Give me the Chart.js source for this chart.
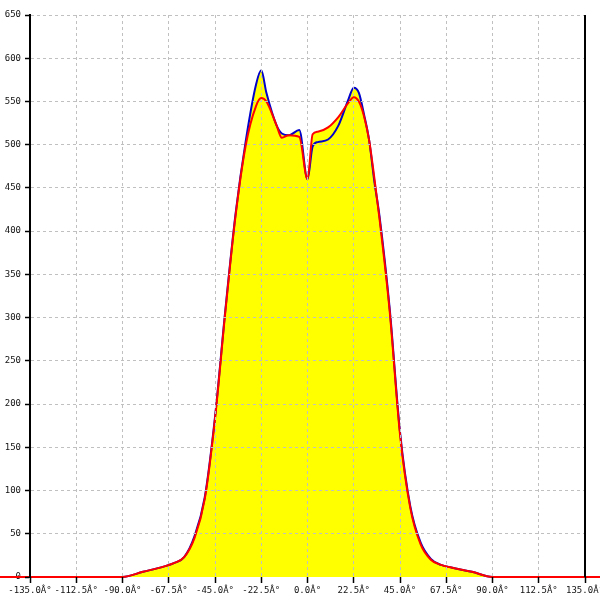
<!DOCTYPE html>
<html>
<head>
<meta charset="utf-8">
<script src="https://cdn.jsdelivr.net/npm/chart.js@4"></script>
<style>
  html, body { margin: 0; padding: 0; background: #fff; }
</style>
</head>
<body>
<canvas id="chart" width="600" height="600"></canvas>
<script>
// angles in degrees
const angles = [-180, -90, -80, -70, -65, -60, -55, -50, -45, -40, -35, -30, -25, -22.5, -20, -15, -12.5, -9, -4, 0,
  2.5, 5, 10, 15, 20, 22.5, 25, 27.5, 30, 32.5, 35, 40, 45, 50, 55, 60, 65, 70, 80, 90, 180];
const blueValues = [0, 0, 6, 12, 16, 23, 47, 92, 185, 308, 420, 505, 570, 586, 560, 522, 513, 511, 517, 460,
  498, 503, 506, 522, 553, 566, 560, 535, 505, 458, 418, 310, 168, 82, 40, 21, 14, 11, 6, 0, 0];
const redValues = [0, 0, 6, 12, 16, 23, 45, 90, 183, 306, 418, 500, 545, 554, 550, 522, 508, 511, 509, 460,
  512, 515, 520, 532, 549, 555, 550, 533, 505, 462, 415, 307, 165, 80, 38, 20, 14, 11, 6, 0, 0];

const xMin = -135, xMax = 135, xStep = 22.5;
const yMin = 0, yMax = 650, yStep = 50;
const degSuffix = "Â°";

const toPoints = vals => angles.map((a, i) => ({ x: a, y: vals[i] }));

const font = { family: "'DejaVu Sans Mono', monospace", size: 9 };
const gridColor = "#c0c0c0";

// right-hand frame line of the plot area
const rightFrame = {
  id: "rightFrame",
  afterDraw(c) {
    const { ctx, chartArea: a } = c;
    ctx.save();
    ctx.strokeStyle = "#000";
    ctx.lineWidth = 2;
    ctx.beginPath();
    ctx.moveTo(a.right, a.top);
    ctx.lineTo(a.right, a.bottom);
    ctx.stroke();
    ctx.restore();
  }
};

new Chart(document.getElementById("chart"), {
  type: "line",
  data: {
    datasets: [
      {
        data: toPoints(redValues),
        borderColor: "#ff0000",
        backgroundColor: "#ffff00",
        borderWidth: 2,
        fill: "origin",
        pointRadius: 0,
        cubicInterpolationMode: "monotone",
        clip: false
      },
      {
        data: toPoints(blueValues),
        borderColor: "#0000cc",
        backgroundColor: "#ffff00",
        borderWidth: 2,
        fill: "origin",
        pointRadius: 0,
        cubicInterpolationMode: "monotone",
        clip: false
      }
    ]
  },
  options: {
    responsive: false,
    animation: false,
    layout: { padding: { top: 15, right: 15, left: 0, bottom: 0 } },
    plugins: {
      legend: { display: false },
      tooltip: { enabled: false },
      filler: { drawTime: "beforeDatasetsDraw" }
    },
    scales: {
      x: {
        type: "linear",
        min: xMin,
        max: xMax,
        afterFit: s => { s.height = 23; s.paddingLeft = 0; s.paddingRight = 0; },
        // the red zero line covers the bottom axis line in the reference
        border: { display: false, dash: [3, 3] },
        grid: {
          z: 1,
          color: c => (c.tick && Math.abs(c.tick.value) === 135) ? "rgba(0,0,0,0)" : gridColor,
          lineWidth: 1,
          tickLength: 6,
          tickColor: "#000",
          tickWidth: 1.5
        },
        ticks: {
          stepSize: xStep,
          autoSkip: false,
          maxRotation: 0,
          padding: 2,
          color: "#111",
          font,
          callback: v => Number(v).toFixed(1) + degSuffix
        }
      },
      y: {
        min: yMin,
        max: yMax,
        afterFit: s => { s.width = 30; },
        border: { color: "#000", width: 2, dash: [3, 3], z: 1 },
        grid: {
          z: 1,
          color: c => (c.tick && c.tick.value === 0) ? "rgba(0,0,0,0)" : gridColor,
          lineWidth: 1,
          tickLength: 5,
          tickColor: "#000",
          tickWidth: 1.5
        },
        ticks: {
          stepSize: yStep,
          padding: 4,
          color: "#111",
          font
        }
      }
    }
  },
  plugins: [rightFrame]
});
</script>
</body>
</html>
